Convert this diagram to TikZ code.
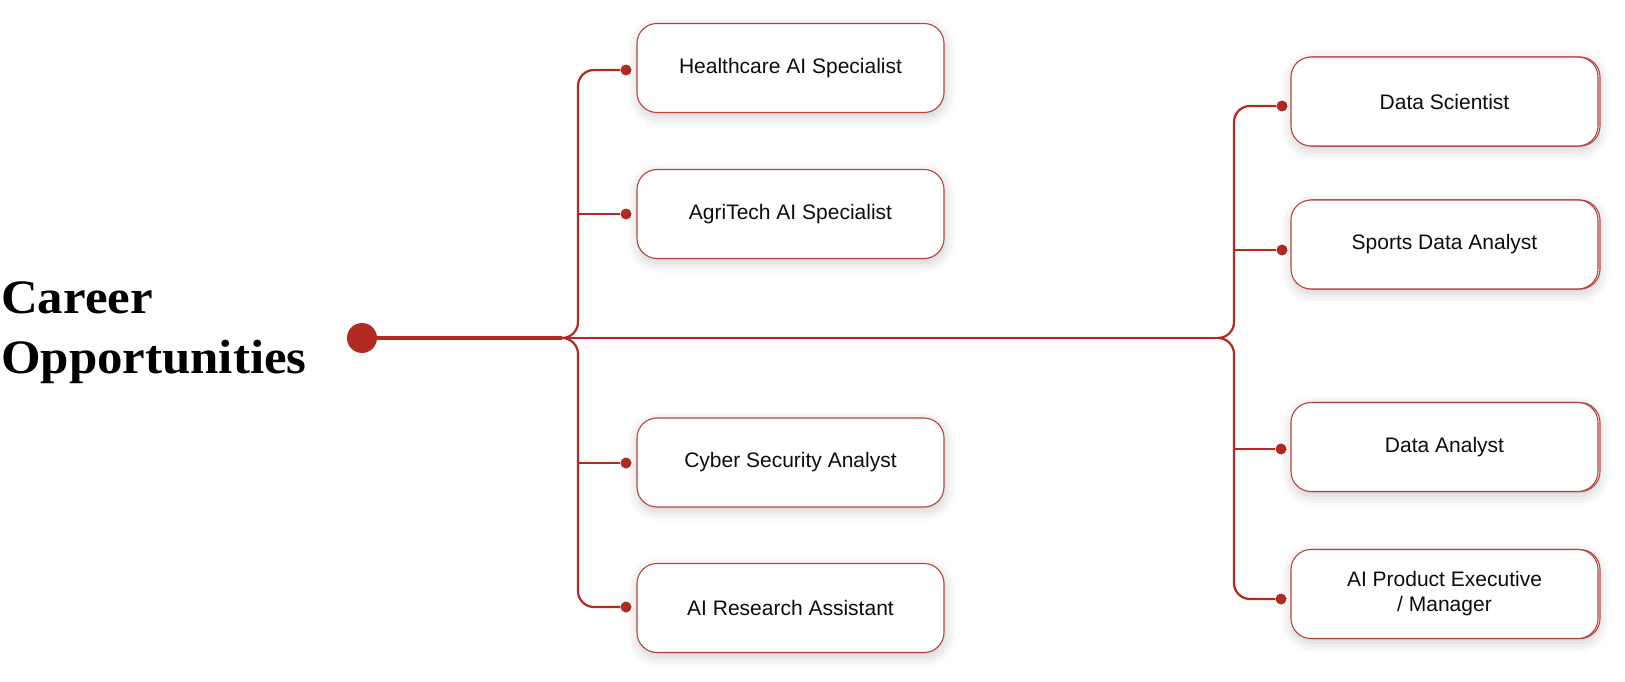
\documentclass[tikz,border=0pt]{standalone}
\usepackage{fontspec}
\setmainfont{Liberation Sans}
\newfontfamily\titlefont[FakeStretch=1.06]{Liberation Serif}
\usetikzlibrary{shadows,shadows.blur}
\definecolor{lineRed}{HTML}{B22A22}
\definecolor{boxRed}{HTML}{B5453E}
\tikzset{
  card/.style={draw=boxRed,line width=1.1pt,fill=white,rounded corners=20pt,
    minimum width=307pt,minimum height=89pt,align=center,text=black!95,
    font=\fontsize{21}{25}\selectfont,
    blur shadow={shadow xshift=1pt,shadow yshift=-4pt,shadow blur radius=11pt,shadow opacity=20}},
  rcard/.style={card,copy shadow={shadow xshift=2pt,shadow yshift=0pt,draw=boxRed,fill=white,opacity=1,line width=1.1pt}},
  pin/.style={circle,fill=lineRed,inner sep=0pt,minimum size=11pt},
  branch/.style={draw=lineRed,line width=2.2pt,rounded corners=16pt}
}
\begin{document}
\begin{tikzpicture}[x=1pt,y=-1pt]
  \useasboundingbox (0,0) rectangle (1625,682);

  \node[font=\titlefont\bfseries\fontsize{48}{60}\selectfont,align=left,anchor=base west,inner sep=0pt] (title) at (1,373) {Career\\Opportunities};

  \node[circle,fill=lineRed,inner sep=0pt,minimum size=30pt] (hub) at (362,338) {};

  \coordinate (lsplit) at (562,338);
  \coordinate (lv) at (578,338);
  \coordinate (rsplit) at (1218,338);
  \coordinate (rv) at (1234,338);

  \node[pin] (lp1) at (626,70) {};
  \node[pin] (lp2) at (626,214) {};
  \node[pin] (lp3) at (626,463) {};
  \node[pin] (lp4) at (626,607) {};

  \node[card] (health) at (790.5,68) {Healthcare AI Specialist};
  \node[card] (agri) at (790.5,214) {AgriTech AI Specialist};
  \node[card] (cyber) at (790.5,462.5) {Cyber Security Analyst};
  \node[card] (research) at (790.5,608) {AI Research Assistant};

  \node[pin] (rp1) at (1282,106) {};
  \node[pin] (rp2) at (1282,250) {};
  \node[pin] (rp3) at (1281,449) {};
  \node[pin] (rp4) at (1281,599) {};

  \node[rcard] (scientist) at (1444.5,101.5) {Data Scientist};
  \node[rcard] (sports) at (1444.5,244.5) {Sports Data Analyst};
  \node[rcard] (analyst) at (1444.5,447) {Data Analyst};
  \node[rcard] (product) at (1444.5,594) {AI Product Executive\\ / Manager};

  \draw[lineRed,line width=4pt] (hub) -- (lsplit);
  \draw[branch] (lsplit) -- (rsplit);

  \draw[branch] (lsplit) -- (lv) |- (lp1);
  \draw[branch] (lsplit) -- (lv) |- (lp4);
  \draw[branch] (lp2 -| lv) -- (lp2);
  \draw[branch] (lp3 -| lv) -- (lp3);

  \draw[branch] (rsplit) -- (rv) |- (rp1);
  \draw[branch] (rsplit) -- (rv) |- (rp4);
  \draw[branch] (rp2 -| rv) -- (rp2);
  \draw[branch] (rp3 -| rv) -- (rp3);
\end{tikzpicture}
\end{document}
